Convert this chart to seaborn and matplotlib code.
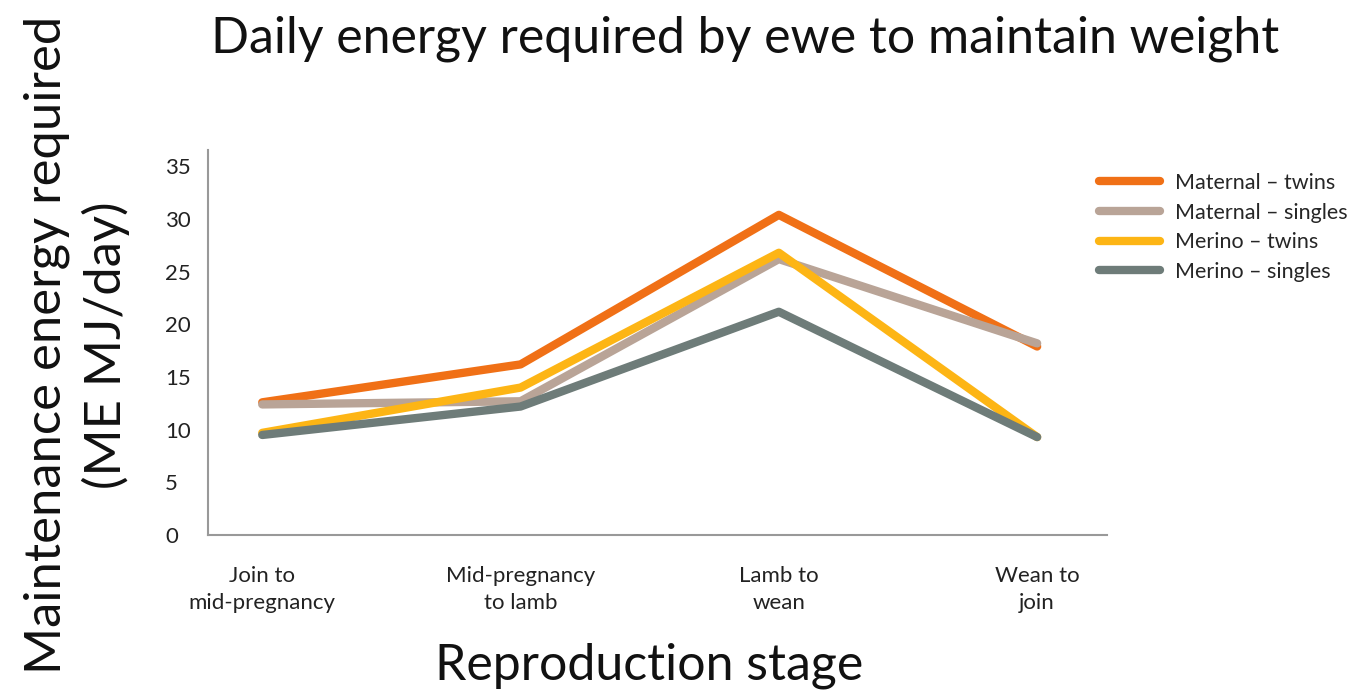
import pandas as pd
import matplotlib
matplotlib.use("Agg")
import matplotlib.pyplot as plt
import seaborn as sns

# data
stages = ["Join to\nmid-pregnancy", "Mid-pregnancy\nto lamb", "Lamb to\nwean", "Wean to\njoin"]
series = ["Maternal \u2013 twins", "Maternal \u2013 singles", "Merino \u2013 twins", "Merino \u2013 singles"]
maternal_twins = [12.6, 16.2, 30.4, 17.9]
maternal_singles = [12.4, 12.7, 26.2, 18.2]
merino_twins = [9.7, 14.0, 26.8, 9.3]
merino_singles = [9.5, 12.2, 21.2, 9.3]
colors = ["#F07016", "#B9A497", "#FDB515", "#6E7C79"]

rows = []
for name, vals in zip(series, [maternal_twins, maternal_singles, merino_twins, merino_singles]):
    for st, v in zip(stages, vals):
        rows.append({"Stage": st, "Series": name, "Energy": v})
df = pd.DataFrame(rows)

sns.set_style("white")
plt.rcParams["font.family"] = ["Lato", "DejaVu Sans"]

fig = plt.figure(figsize=(13.64, 6.97), dpi=100)
ax = fig.add_axes([0.1525, 0.2324, 0.659, 0.553])

sns.lineplot(data=df, x="Stage", y="Energy", hue="Series", hue_order=series,
             palette=colors, linewidth=6, ax=ax, sort=False)

ax.set_xlim(-0.21, 3.27)
ax.set_ylim(0, 36.6)
ax.set_yticks(range(0, 36, 5))
ax.tick_params(axis="both", length=0, labelsize=16, colors="#222222")
ax.tick_params(axis="x", pad=22)
ax.yaxis.set_tick_params(pad=31)
for lab in ax.get_yticklabels():
    lab.set_horizontalalignment("left")
for lab in ax.get_xticklabels():
    lab.set_linespacing(1.45)

for s in ["top", "right"]:
    ax.spines[s].set_visible(False)
for s in ["left", "bottom"]:
    ax.spines[s].set_color("#999999")
    ax.spines[s].set_linewidth(1.5)

ax.set_xlabel("")
ax.set_ylabel("")

fig.text(0.546, 0.945, "Daily energy required by ewe to maintain weight",
         ha="center", va="center", fontsize=36, color="#111111")
fig.text(0.476, 0.045, "Reproduction stage", ha="center", va="center",
         fontsize=36, color="#111111")
fig.text(0.056, 0.505, "Maintenance energy required\n(ME MJ/day)", ha="center",
         va="center", rotation=90, fontsize=36.5, color="#111111", linespacing=1.3)

ax.get_legend().remove()
handles, labels = ax.get_legend_handles_labels()
leg = fig.legend(handles, labels, loc="upper left", bbox_to_anchor=(0.806, 0.752),
                 frameon=False, fontsize=15.5, handlelength=2.8, handletextpad=0.7,
                 labelspacing=0.45, borderpad=0, borderaxespad=0)
for line in leg.get_lines():
    line.set_linewidth(6)

fig.savefig("out.png", dpi=100)
